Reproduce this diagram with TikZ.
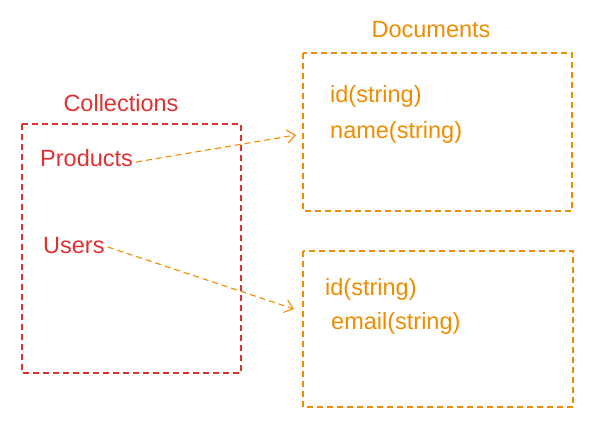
\documentclass[tikz,border=0pt]{standalone}
\usepackage{fontspec}
\setmainfont{Liberation Sans}
\usetikzlibrary{arrows.meta}
\definecolor{cred}{HTML}{E03131}
\definecolor{corange}{HTML}{F08C00}
\begin{document}
\begin{tikzpicture}[x=1pt,y=-1pt,
  boxline/.style={dash pattern=on 6pt off 4pt, line width=1.1pt},
  lbl/.style={font=\fontsize{23.5}{26}\selectfont, inner sep=0pt},
  link/.style={corange, dash pattern=on 6pt off 4pt, line width=1.1pt, -{Straight Barb[length=8pt,width=13pt]}}]
\useasboundingbox (0,0) rectangle (592,430);
\draw[boxline, cred] (22,124) rectangle (241,373);
\node[lbl, cred] (coll) at (121,103) {Collections};
\node[lbl, cred, anchor=west] (prod) at (40,158) {Products};
\node[lbl, cred, anchor=west] (users) at (43,246) {Users};
\draw[boxline, corange] (303,53) rectangle (572,211);
\node[lbl, corange] (docs) at (431,30) {Documents};
\node[lbl, corange, anchor=west] (id1) at (330,96) {id(string)};
\node[lbl, corange, anchor=west] (name1) at (330,132) {name(string)};
\draw[boxline, corange] (303,251) rectangle (573,407);
\node[lbl, corange, anchor=west] (id2) at (325,289) {id(string)};
\node[lbl, corange, anchor=west] (email2) at (331,323) {email(string)};
\coordinate (t1) at (296,135);
\coordinate (t2) at (294,309);
\draw[link] (prod.east) ++(3,4) -- (t1);
\draw[link] (users.east) ++(3,1) -- (t2);
\end{tikzpicture}
\end{document}
